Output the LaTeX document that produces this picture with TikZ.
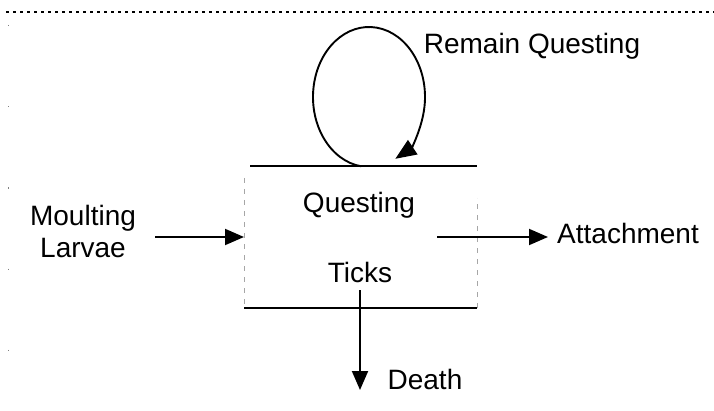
\documentclass[tikz,border=0pt]{standalone}
\usepackage{fontspec}
\setmainfont{Liberation Sans}
\usetikzlibrary{arrows.meta}
\begin{document}
\begin{tikzpicture}[x=1pt,y=1pt,
  lbl/.style={inner sep=0pt, anchor=base, font=\fontsize{28}{32}\selectfont},
  flow/.style={line width=1.9pt, -{Triangle[length=19pt,width=16pt]}},
  edge/.style={line width=1.7pt},
  faint/.style={line width=0.7pt, gray!70, dash pattern=on 5pt off 6pt}]
\useasboundingbox (0,0) rectangle (714,410);
% dotted rule across the top
\draw[line width=1.4pt, dash pattern=on 2.5pt off 4.5pt] (6,398) -- (714,398);
% sparse dots down the left margin
\draw[line width=0.7pt, gray, dash pattern=on 1.2pt off 80pt] (8,385) -- (8,5);

% compartment outline
\coordinate (tl) at (250,244);
\coordinate (tr) at (477,244);
\coordinate (bl) at (244,102);
\coordinate (br) at (477,102);
\draw[edge] (tl) -- (tr);
\draw[edge] (bl) -- (br);
\draw[faint] (244,232) -- (bl);
\draw[faint] (br) -- (477,212);

% labels
\node[lbl] (questing) at (359,197) {Questing};
\node[lbl] (ticks) at (360,128) {Ticks};
\node[lbl] (moult) at (83,185) {Moulting};
\node[lbl] (larvae) at (83,153) {Larvae};
\node[lbl] (attach) at (628,167) {Attachment};
\node[lbl] (death) at (425,21) {Death};
\node[lbl] (remain) at (532,356) {Remain Questing};

% inflow and outflows
\coordinate (inS) at (155,173);
\coordinate (inE) at (244,173);
\coordinate (outS) at (437,173);
\coordinate (outE) at (548,173);
\coordinate (dS) at (360,120);
\coordinate (dE) at (360,20);
\draw[flow] (inS) -- (inE);
\draw[flow] (outS) -- (outE);
\draw[flow] (dS) -- (dE);

% self loop above the compartment
\draw[line width=1.9pt, -{Triangle[length=21pt,width=17pt]}]
  (369,313) ++(262:56pt and 70pt) arc[start angle=262, end angle=-62, x radius=56, y radius=70];
\end{tikzpicture}
\end{document}
